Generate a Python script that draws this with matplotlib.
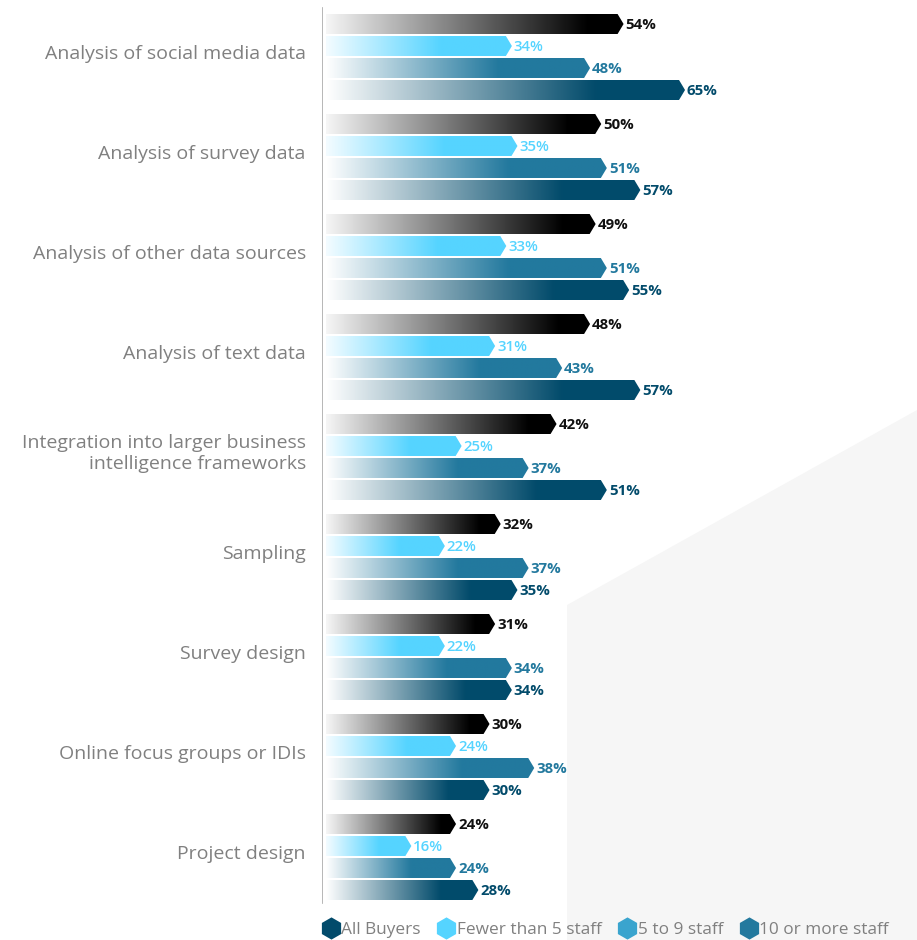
import numpy as np
import matplotlib.pyplot as plt
from matplotlib.patches import Polygon
from matplotlib.lines import Line2D
from matplotlib.colors import to_rgb

categories = [
    "Analysis of social media data",
    "Analysis of survey data",
    "Analysis of other data sources",
    "Analysis of text data",
    "Integration into larger business\nintelligence frameworks",
    "Sampling",
    "Survey design",
    "Online focus groups or IDIs",
    "Project design",
]
series_names = ["All Buyers", "Fewer than 5 staff", "5 to 9 staff", "10 or more staff"]
all_buyers = [54, 50, 49, 48, 42, 32, 31, 30, 24]
fewer_than_5 = [34, 35, 33, 31, 25, 22, 22, 24, 16]
five_to_9 = [48, 51, 51, 43, 37, 37, 34, 38, 24]
ten_or_more = [65, 57, 55, 57, 51, 35, 34, 30, 28]

bar_colors = ["#000000", "#55d4ff", "#23799e", "#024b6b"]
label_colors = ["#111111", "#55d4ff", "#23799e", "#024b6b"]
label_weights = ["bold", "semibold", "bold", "bold"]
legend_colors = ["#024b6b", "#55d4ff", "#3aa4ce", "#23799e"]
# point along the bar where the gradient reaches its full colour
grad_stop = [0.88, 0.62, 0.65, 0.75]
grad_start = ["#f6f6f6", "#f4fcff", "#ffffff", "#ffffff"]

plt.rcParams["font.family"] = ["Open Sans", "DejaVu Sans"]

W, H = 917, 940
fig = plt.figure(figsize=(W / 100, H / 100), dpi=100)

# pale backdrop shape in the lower right
bg = Polygon([(567 / W, 0), (567 / W, 1 - 605 / H), (1, 1 - 410 / H), (1, 0)],
             closed=True, transform=fig.transFigure, facecolor="#f6f6f6",
             edgecolor="none", zorder=0)
fig.patches.append(bg)

x0 = 322
px_per_pct = 5.585
ax = fig.add_axes([x0 / W, 0, (W - x0) / W, 1])
ax.set_facecolor("none")
ax.set_xlim(0, (W - x0) / px_per_pct)
slot = 22.0
ax.set_ylim(H / slot, 0)
ax.axis("off")

group_gap = 100 / slot
first_center = 24 / slot
bar_h = 20 / slot
tip = 6 / px_per_pct
start = 4 / px_per_pct

ax.plot([0, 0], [8 / slot, 903 / slot], color="#aaaaaa", lw=1.2, zorder=1)

data = [all_buyers, fewer_than_5, five_to_9, ten_or_more]
n = 256
for i, cat in enumerate(categories):
    gc = first_center + i * group_gap
    for j, vals in enumerate(data):
        v = vals[i]
        yc = gc + j
        y0, y1 = yc - bar_h / 2, yc + bar_h / 2
        poly = Polygon([(start, y0), (v - tip, y0), (v, yc), (v - tip, y1), (start, y1)],
                       closed=True, facecolor="none", edgecolor="none")
        ax.add_patch(poly)
        c0 = np.array(to_rgb(grad_start[j]))
        c1 = np.array(to_rgb(bar_colors[j]))
        t = np.clip(np.linspace(0, 1, n) / grad_stop[j], 0, 1)[:, None]
        img = (c0 + (c1 - c0) * t)[None, :, :]
        im = ax.imshow(img, extent=(start, v, y1, y0), aspect="auto",
                       interpolation="bilinear", zorder=2)
        im.set_clip_path(poly)
        ax.text(v + 0.35, yc + 0.04, f"{v}%", va="center", ha="left",
                fontsize=10.8, fontweight=label_weights[j], color=label_colors[j],
                zorder=3)
    ax.text(-2.9, gc + 1.35, cat, ha="right", va="center", fontsize=14,
            color="#808080", linespacing=1.2)

handles = [Line2D([], [], marker="h", linestyle="none", markersize=16,
                  markerfacecolor=c, markeredgecolor="none") for c in legend_colors]
fig.legend(handles, series_names, loc="center left",
           bbox_to_anchor=(305 / W, 1 - 930 / H), ncol=4, frameon=False,
           fontsize=12.4, handletextpad=0.0, columnspacing=0.9, labelcolor="#808080",
           handlelength=1.2)

fig.savefig("out.png", dpi=100)
